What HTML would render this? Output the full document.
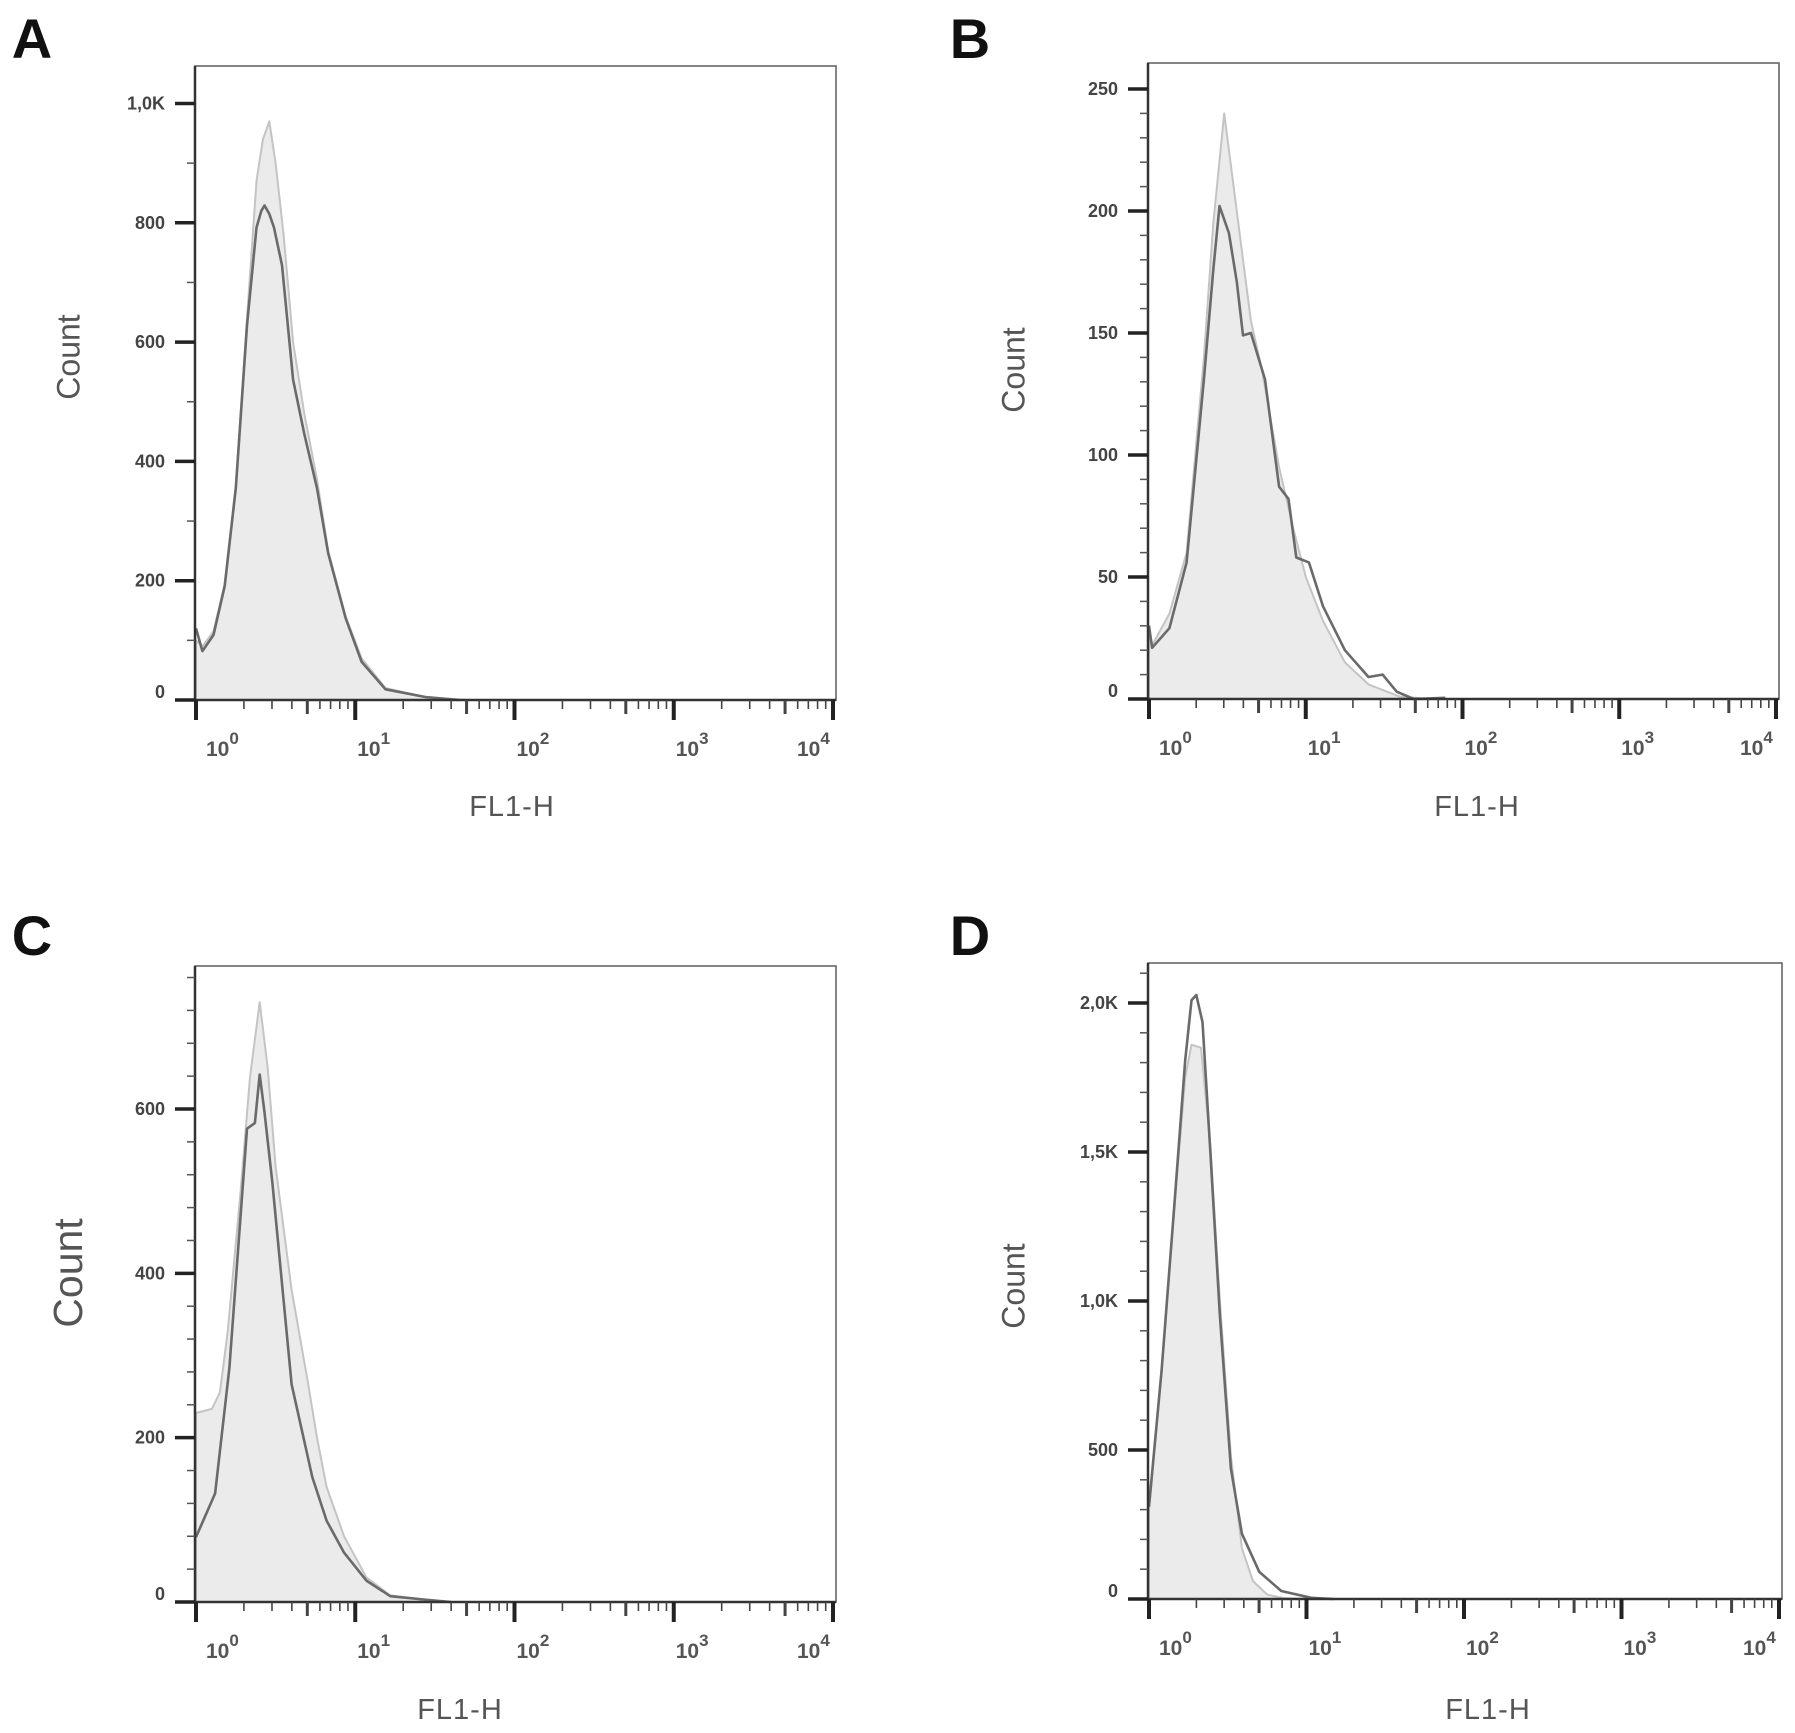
<!DOCTYPE html>
<html><head><meta charset="utf-8">
<style>
html,body{margin:0;padding:0;background:#fff;}
svg{display:block;font-family:"Liberation Sans",sans-serif;}
</style></head>
<body>
<svg id="fig" width="1795" height="1733" viewBox="0 0 1795 1733" xmlns="http://www.w3.org/2000/svg"></svg>
<script>
// ---- Data (x in log10 FL1-H, y = count) ----
const panelLetters = ["A","B","C","D"];
const yTicksA = [0,200,400,600,800,1000];
const yTickLabelsA = ["0","200","400","600","800","1,0K"];
const fillXA = [0.0,0.04,0.11,0.18,0.25,0.32,0.38,0.42,0.46,0.5,0.55,0.61,0.68,0.76,0.83,0.94,1.04,1.19,1.44,1.7];
const fillYA = [100,90,115,195,360,640,870,940,970,900,780,600,480,370,250,140,70,20,5,0];
const lineXA = [0.0,0.04,0.11,0.18,0.25,0.32,0.38,0.41,0.43,0.46,0.49,0.54,0.61,0.68,0.76,0.83,0.94,1.04,1.19,1.44,1.65];
const lineYA = [120,82,109,191,355,628,792,820,829,815,792,729,537,446,355,246,137,64,18,5,0];

const yTicksB = [0,50,100,150,200,250];
const yTickLabelsB = ["0","50","100","150","200","250"];
const fillXB = [0.0,0.02,0.13,0.24,0.35,0.41,0.48,0.55,0.6,0.65,0.72,0.83,0.92,1.0,1.11,1.25,1.4,1.6,1.8];
const fillYB = [30,22,35,60,140,195,240,205,180,155,135,95,70,50,32,15,6,1,0];
const lineXB = [0.0,0.02,0.13,0.24,0.35,0.41,0.45,0.51,0.56,0.6,0.65,0.74,0.83,0.89,0.94,1.02,1.11,1.25,1.4,1.49,1.58,1.69,1.89];
const lineYB = [30,21,29,56,131,176,202,191,171,149,150,131,87,82,58,56,38,20,9,10,3,0,0.5];

const yTicksC = [0,200,400,600];
const yTickLabelsC = ["0","200","400","600"];
const fillXC = [0.0,0.1,0.15,0.2,0.28,0.34,0.4,0.45,0.5,0.6,0.7,0.76,0.82,0.93,1.07,1.22,1.43,1.6];
const fillYC = [230,235,255,330,500,640,730,650,530,380,270,200,140,80,30,8,3,0];
const lineXC = [0.0,0.12,0.21,0.32,0.37,0.4,0.43,0.48,0.6,0.73,0.82,0.93,1.07,1.22,1.43,1.6];
const lineYC = [79,132,285,576,583,642,596,510,265,152,99,60,26,7,3,0];

const yTicksD = [0,500,1000,1500,2000];
const yTickLabelsD = ["0","500","1,0K","1,5K","2,0K"];
const fillXD = [0.0,0.08,0.16,0.23,0.27,0.33,0.39,0.45,0.52,0.59,0.66,0.75,0.85,1.0];
const fillYD = [300,760,1310,1750,1860,1850,1520,1000,480,170,60,15,3,0];
const lineXD = [0.0,0.08,0.16,0.23,0.27,0.3,0.34,0.39,0.45,0.52,0.59,0.7,0.84,1.03,1.17];
const lineYD = [310,767,1315,1808,2009,2027,1936,1498,950,438,219,91,27,4,0];

const xDecades = [0,1,2,3,4];

// ---- Layout ----
const panels = [
 {id:"a",letter:panelLetters[0],L:195,T:66,R:836,B:700,y0:700,yRef:1000,yRefPx:103.5,yTicks:yTicksA,yLabels:yTickLabelsA,minor:100,fx:fillXA,fy:fillYA,lx:lineXA,ly:lineYA,lt:[32,38],ct:[71,357,32],xt:[512,806]},
 {id:"b",letter:panelLetters[1],L:1148,T:63,R:1779,B:699,y0:699,yRef:250,yRefPx:89,yTicks:yTicksB,yLabels:yTickLabelsB,minor:10,fx:fillXB,fy:fillYB,lx:lineXB,ly:lineYB,lt:[970,38],ct:[1016,370,32],xt:[1477,806]},
 {id:"c",letter:panelLetters[2],L:195,T:966,R:836,B:1602,y0:1602,yRef:600,yRefPx:1109,yTicks:yTicksC,yLabels:yTickLabelsC,minor:40,fx:fillXC,fy:fillYC,lx:lineXC,ly:lineYC,lt:[32,935],ct:[71,1273,41],xt:[460,1709]},
 {id:"d",letter:panelLetters[3],L:1148,T:963,R:1782,B:1599,y0:1599,yRef:2000,yRefPx:1003,yTicks:yTicksD,yLabels:yTickLabelsD,minor:100,fx:fillXD,fy:fillYD,lx:lineXD,ly:lineYD,lt:[970,935],ct:[1016,1286,32],xt:[1488,1709]}
];

const NS="http://www.w3.org/2000/svg";
const svg=document.getElementById("fig");
function mk(tag,attrs,parent){const e=document.createElementNS(NS,tag);for(const k in attrs)e.setAttribute(k,attrs[k]);(parent||svg).appendChild(e);return e;}

panels.forEach(p=>{
  const g=mk("g",{});
  
  
  const x0=p.L+1, dec=(p.R-3-x0)/4;
  const X=v=>x0+v*dec;
  const Y=c=>p.y0-(c/p.yRef)*(p.y0-p.yRefPx);

  const lt=mk("text",{x:p.lt[0],y:p.lt[1]+20,"text-anchor":"middle","font-size":56,"font-weight":"bold",fill:"#111"},g);
  lt.textContent=p.letter;
  
  

  const fr=mk("rect",{x:p.L,y:p.T,width:p.R-p.L,height:p.B-p.T,fill:"#fff",stroke:"#666","stroke-width":1.6},g);
  
  

  let d="M"+X(p.fx[0])+","+p.y0;
  p.fx.forEach((v,i)=>{d+=" L"+X(v).toFixed(1)+","+Y(p.fy[i]).toFixed(1);});
  d+=" L"+X(p.fx[p.fx.length-1])+","+p.y0+" Z";
  const fp=mk("path",{d:d,fill:"#ebebeb",stroke:"#c4c4c4","stroke-width":2,"stroke-linejoin":"round"},g);
  
  

  let d2="";
  p.lx.forEach((v,i)=>{d2+=(i?" L":"M")+X(v).toFixed(1)+","+Y(p.ly[i]).toFixed(1);});
  const lp=mk("path",{d:d2,fill:"none",stroke:"#6a6a6a","stroke-width":2.6,"stroke-linejoin":"round"},g);
  
  

  const ya=mk("line",{x1:p.L,y1:p.T,x2:p.L,y2:p.B+1,stroke:"#333","stroke-width":2.5},g);
  
  
  const xa=mk("line",{x1:p.L,y1:p.B,x2:p.R,y2:p.B,stroke:"#333","stroke-width":2.5},g);
  
  

  for(let c=p.minor;Y(c)>p.T+8;c+=p.minor){
    if(p.yTicks.indexOf(c)>=0)continue;
    mk("line",{x1:p.L-8,y1:Y(c),x2:p.L,y2:Y(c),stroke:"#555","stroke-width":1.5},g);
  }
  p.yTicks.forEach((c,i)=>{
    mk("line",{x1:p.L-20,y1:Y(c),x2:p.L,y2:Y(c),stroke:"#222","stroke-width":3.5},g);
    const t=mk("text",{x:p.L-30,y:Y(c)+(c===0?-2:6),"text-anchor":"end","font-size":18,"font-weight":"bold",fill:"#444"},g);
    t.textContent=p.yLabels[i];
    
    
  });

  xDecades.forEach(k=>{
    if(k<4){
      for(let m=2;m<=9;m++){
        const xx=X(k+Math.log10(m));
        const len=(m===5)?14:9;
        mk("line",{x1:xx,y1:p.B,x2:xx,y2:p.B+len,stroke:"#444","stroke-width":m===5?3:1.6},g);
      }
    }
    const xx=X(k);
    mk("line",{x1:xx,y1:p.B,x2:xx,y2:p.B+20,stroke:"#222","stroke-width":4},g);
    const lx = k===0 ? xx+10 : (k===4 ? xx-36 : xx+2);
    const t=mk("text",{x:lx,y:p.B+56,"font-size":21,"font-weight":"bold",fill:"#555"},g);
    t.textContent="10";
    const s=mk("tspan",{dy:-12,"font-size":17},t);
    s.textContent=String(k);
    
    
  });

  const ct=mk("text",{x:p.ct[0],y:p.ct[1],"text-anchor":"middle","font-size":p.ct[2],fill:"#555",transform:"rotate(-90 "+p.ct[0]+" "+p.ct[1]+")","dominant-baseline":"middle"},g);
  ct.textContent="Count";
  
  
  const xt=mk("text",{x:p.xt[0],y:p.xt[1]+10,"text-anchor":"middle","font-size":29,fill:"#555","letter-spacing":1},g);
  xt.textContent="FL1-H";
  
  
});
</script>
</body></html>
